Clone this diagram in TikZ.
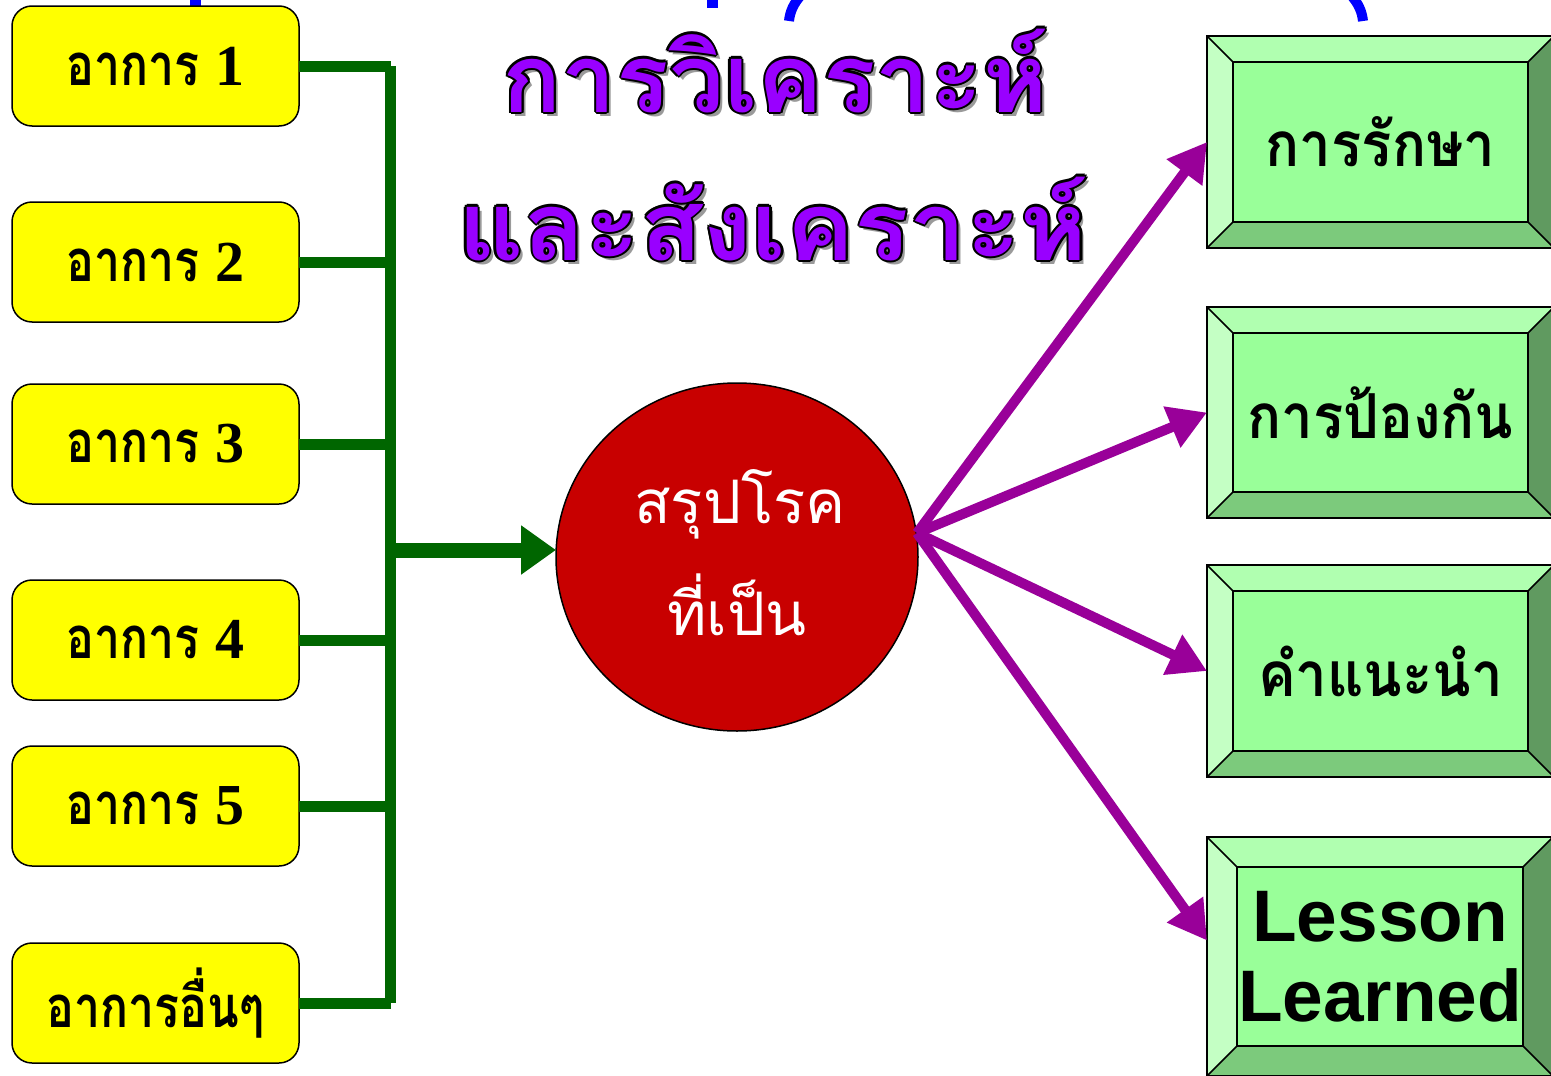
\documentclass[tikz,border=0pt]{standalone}
\usepackage{fontspec}
\newfontfamily\thai[Script=Thai]{Loma}
\newfontfamily\thaiy[Script=Thai,FakeStretch=0.8]{Loma}
\newfontfamily\thaig[Script=Thai,FakeStretch=0.91]{Loma}
\newfontfamily\thait[Script=Thai,FakeStretch=1.07]{Loma}
\newfontfamily\thaitn[Script=Thai,FakeStretch=1.03]{Loma}
\newfontfamily\lsans{Liberation Sans}
\newfontfamily\lserif{Liberation Serif}
\usetikzlibrary{arrows.meta,shapes.geometric,calc}
\definecolor{glinec}{HTML}{006600}
\definecolor{circred}{HTML}{C80000}
\definecolor{purp}{HTML}{990099}
\definecolor{titlep}{HTML}{9900FF}
\definecolor{shadowgray}{HTML}{9A9A9A}
\definecolor{bvtop}{HTML}{B0FFB0}
\definecolor{bvleft}{HTML}{C4FFC4}
\definecolor{bvface}{HTML}{99FF99}
\definecolor{bvbottom}{HTML}{7CCA7C}
\definecolor{bvright}{HTML}{609A60}
\definecolor{fragblue}{HTML}{0000FF}
\definecolor{yfill}{HTML}{FFFF00}
\tikzset{
  ybox/.style={draw=black, line width=1.5pt, fill=yfill, rounded corners=20pt,
    minimum width=287pt, minimum height=120pt, inner sep=0pt, outer sep=0pt,
    font=\bfseries\fontsize{58}{60}\selectfont},
  gline/.style={draw=glinec, line width=11pt},
  garrow/.style={draw=glinec, line width=15pt, -{Triangle[length=35pt,width=47pt]}},
  parrow/.style={draw=purp, line width=10pt, -{Triangle[length=38pt,width=42pt]}},
  gbox/.style={draw=none, inner sep=0pt, outer sep=0pt, align=center},
  gthai/.style={font=\thaig\bfseries\fontsize{62}{64}\selectfont},
  glatin/.style={font=\lsans\bfseries\fontsize{73}{80}\selectfont},
  ttl/.style={anchor=base, inner sep=0pt, font=\bfseries\fontsize{95}{97}\selectfont},
  ctext/.style={anchor=base, inner sep=0pt, text=white, font=\thai\fontsize{60}{62}\selectfont},
  bedge/.style={draw=black, line width=2pt},
}
\newcommand\bevelbox[8]{%
  \fill[bvtop] (#2,#3) -- (#4,#3) -- (#4-#6,#3+#6) -- (#2+#6,#3+#6) -- cycle;
  \fill[bvbottom] (#2,#5) -- (#4,#5) -- (#4-#6,#5-#6) -- (#2+#6,#5-#6) -- cycle;
  \fill[bvleft] (#2,#3) -- (#2+#6,#3+#6) -- (#2+#6,#5-#6) -- (#2,#5) -- cycle;
  \fill[bvright] (#4,#3) -- (#4-#6,#3+#6) -- (#4-#6,#5-#6) -- (#4,#5) -- cycle;
  \fill[bvface] (#2+#6,#3+#6) rectangle (#4-#6,#5-#6);
  \draw[bedge] (#2,#3) rectangle (#4,#5);
  \draw[bedge] (#2+#6,#3+#6) rectangle (#4-#6,#5-#6);
  \draw[bedge, line width=1.5pt] (#2,#3) -- (#2+#6,#3+#6) (#4,#3) -- (#4-#6,#3+#6)
     (#2,#5) -- (#2+#6,#5-#6) (#4,#5) -- (#4-#6,#5-#6);
  \node[gbox, #7, minimum width=#4pt-#2pt, minimum height=#5pt-#3pt] (#1)
     at ({(#2+#4)/2},{(#3+#5)/2}) {#8};
}
\newcommand\otext[3]{%
  \node[ttl, text=shadowgray] at ($(#2)+(4,4)$) {#3};
  \foreach \dx/\dy in {2.2/0,-2.2/0,0/2.2,0/-2.2,1.6/1.6,-1.6/1.6,1.6/-1.6,-1.6/-1.6}
    \node[ttl, text=black] at ($(#2)+(\dx,\dy)$) {#3};
  \node[ttl, text=titlep] (#1) at (#2) {#3};
}
\begin{document}
\begin{tikzpicture}[x=1pt,y=-1pt]
\useasboundingbox (0,0) rectangle (1551,1076);
\clip (0,0) rectangle (1551,1076);
\fill[white] (0,0) rectangle (1551,1076);

% blue fragments of cut-off text at top
\fill[fragblue] (190,0) rectangle (201,7);
\fill[fragblue] (707,0) rectangle (718,8);
\draw[fragblue, line width=10pt] (802,-6) .. controls (793,4) and (790,12) .. (789,21);
\draw[fragblue, line width=10pt] (1350,-6) .. controls (1359,4) and (1362,12) .. (1363,21);

% title
\otext{t1}{775,112}{\thaitn การวิเคราะห์}
\otext{t2}{773,260}{\thait และสังเคราะห์}

% symptom boxes
\node[ybox] (s1) at (155.5,66) {\thaiy อาการ \lserif 1};
\node[ybox] (s2) at (155.5,262) {\thaiy อาการ \lserif 2};
\node[ybox] (s3) at (155.5,444) {\thaiy อาการ \lserif 3};
\node[ybox] (s4) at (155.5,640) {\thaiy อาการ \lserif 4};
\node[ybox] (s5) at (155.5,806) {\thaiy อาการ \lserif 5};
\node[ybox] (s6) at (155.5,1003) {\thaiy อาการอื่นๆ};

% trunk
\coordinate (ttop) at (390.5,66);
\coordinate (tbot) at (390.5,1003);
\coordinate (tmid) at (390.5,550);
\draw[gline] (ttop) -- (tbot);
\foreach \s in {s1,s2,s3,s4,s5,s6}
  \draw[gline] (\s.east) -- (\s.east -| ttop);

% circle
\node[ellipse, draw=black, line width=1.5pt, fill=circred, minimum width=362pt,
      minimum height=348pt, inner sep=0pt, outer sep=0pt] (c) at (737,557) {};
\node[ctext] (c1) at (740,523) {สรุปโรค};
\node[ctext] (c2) at (737,635) {ที่เป็น};
\draw[garrow] (tmid) -- (tmid -| c.west);

% result boxes
\bevelbox{gA}{1207}{36}{1554}{248}{26}{gthai}{การรักษา}
\bevelbox{gB}{1207}{307}{1554}{518}{26}{gthai}{การป้องกัน}
\bevelbox{gC}{1207}{565}{1554}{777}{26}{gthai}{คำแนะนำ}
\bevelbox{gD}{1207}{837}{1553}{1076}{30}{glatin}{Lesson\\Learned}

% purple arrows
\coordinate (hub) at (917,533);
\draw[parrow] (hub) -- (gA.west);
\draw[parrow] (hub) -- (gB.west);
\draw[parrow] (hub) -- (gC.west);
\draw[parrow] (hub) -- ($(gD.west)+(0,-16)$);
\end{tikzpicture}
\end{document}
